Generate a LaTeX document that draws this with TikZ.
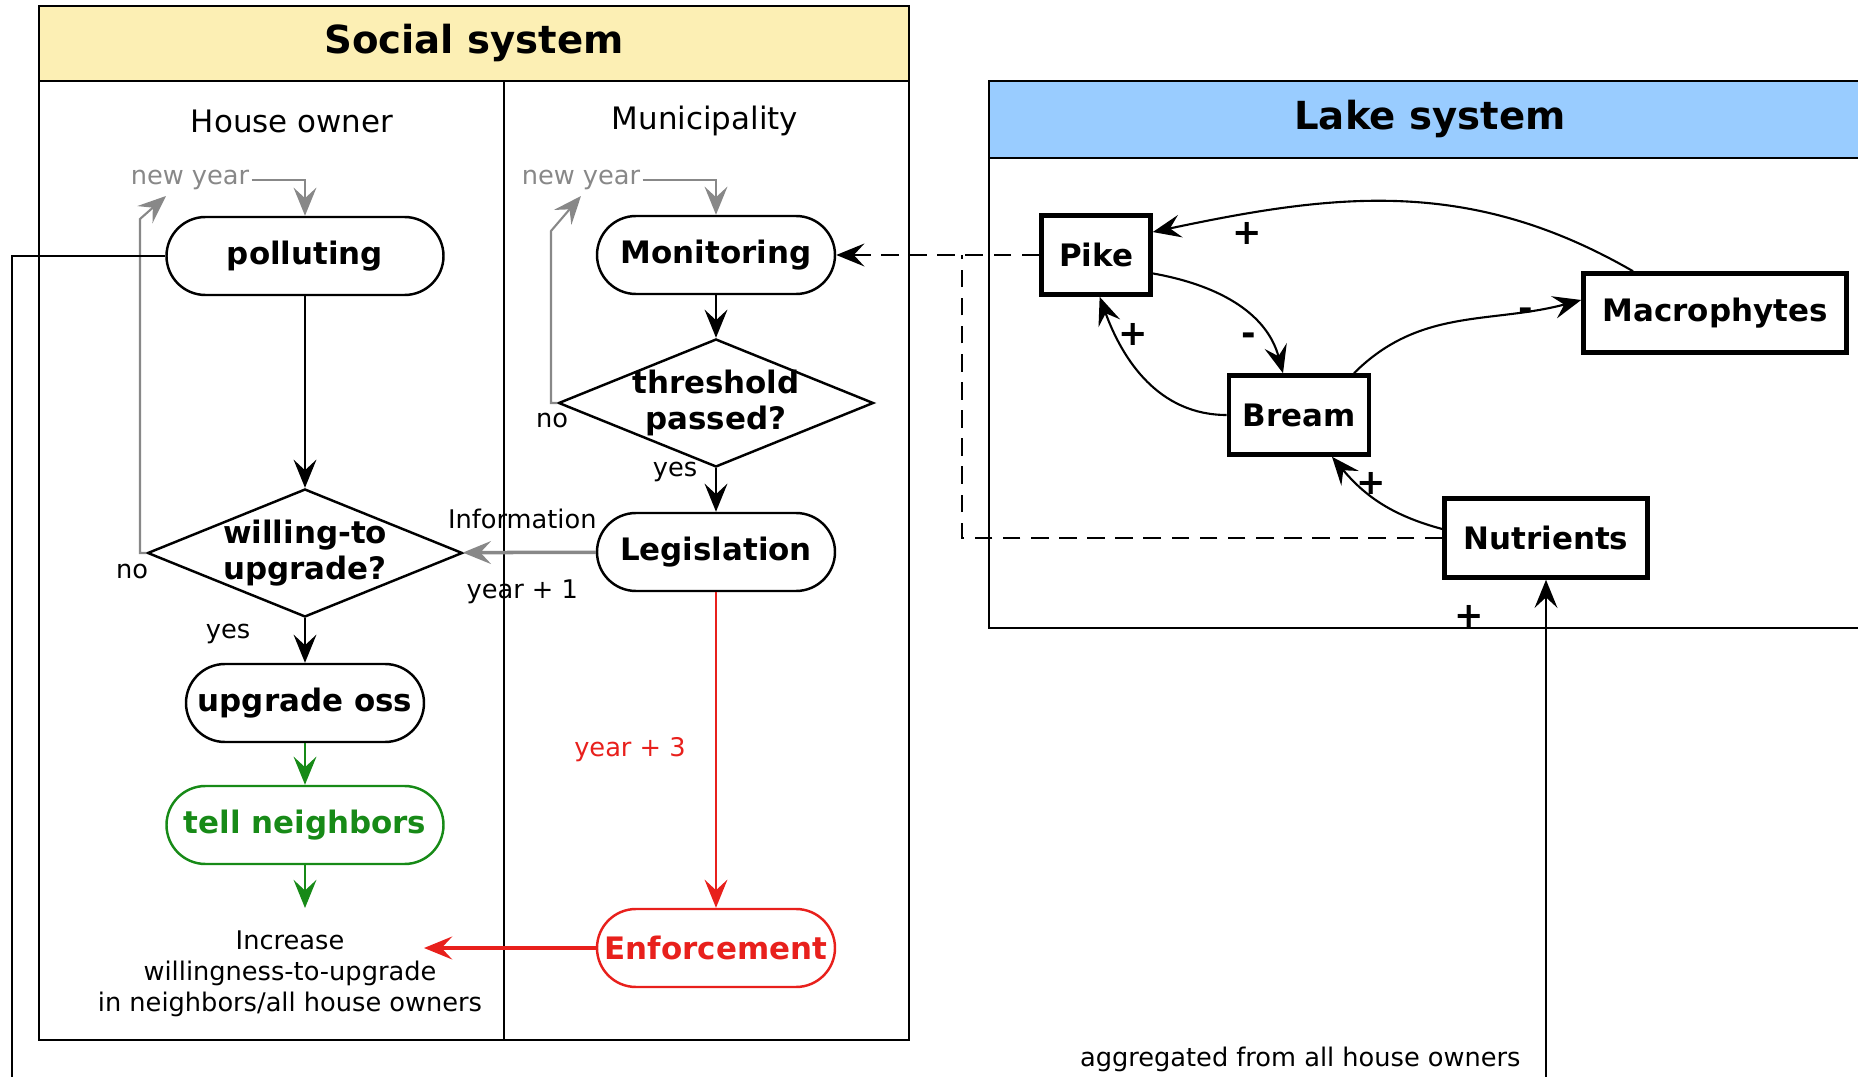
\documentclass[tikz,border=0pt]{standalone}
\usepackage{fontspec}
\setmainfont{DejaVu Sans}
\usetikzlibrary{shapes.geometric,arrows.meta,positioning}
\definecolor{socialyellow}{HTML}{FCEFB4}
\definecolor{lakeblue}{HTML}{99CCFF}
\definecolor{tellgreen}{HTML}{178A17}
\definecolor{enfred}{HTML}{E8201C}
\definecolor{loopgray}{HTML}{888888}

\begin{document}
\begin{tikzpicture}[
  action/.style={draw, rectangle, rounded corners=0.39cm, minimum width=2.38cm,
    minimum height=0.78cm, inner xsep=1pt, line width=0.7pt,
    font=\fontsize{8.8}{10.5}\selectfont\bfseries},
  decision/.style={draw, diamond, aspect=2.45, minimum width=3.15cm,
    minimum height=1.28cm, inner sep=-2pt, align=center, line width=0.7pt,
    font=\fontsize{8.8}{10.4}\selectfont\bfseries},
  stock/.style={draw, rectangle, minimum height=0.79cm, line width=1.3pt,
    font=\fontsize{8.8}{10.5}\selectfont\bfseries},
  lane/.style={font=\fontsize{8.8}{10.5}\selectfont},
  small/.style={font=\fontsize{7.3}{8.8}\selectfont},
  title/.style={font=\fontsize{11}{13}\selectfont\bfseries},
  arrow/.style={line width=0.6pt, -{Stealth[length=8pt,width=6.5pt,inset=3pt]}},
  link/.style={dashed, dash pattern=on 5pt off 3pt, line width=0.7pt},
  sign/.style={font=\fontsize{10}{12}\selectfont\bfseries, inner sep=1pt}
]
\clip (0,0) rectangle (18.58,10.76);

% frames
\draw[line width=0.8pt, fill=socialyellow] (0.39,9.95) rectangle (9.09,10.70);
\draw[line width=0.8pt] (0.39,0.36) rectangle (9.09,9.95);
\draw[line width=0.8pt] (5.04,0.36) -- (5.04,9.95);
\node[title] (social) at (4.74,10.33) {Social system};
\node[lane] (howner) at (2.92,9.55) {House owner};
\node[lane] (munic) at (7.05,9.55) {Municipality};

\draw[line width=0.8pt, fill=lakeblue] (9.89,9.18) rectangle (18.80,9.95);
\draw[line width=0.8pt] (9.89,4.48) rectangle (18.80,9.18);
\node[title] (lake) at (14.30,9.57) {Lake system};

% house owner
\node[action, minimum width=2.77cm] (poll) at (3.05,8.20) {polluting};
\node[decision] (will) at (3.05,5.23) {willing-to\\upgrade?};
\node[action] (upg) at (3.05,3.73) {upgrade oss};
\node[action, draw=tellgreen, text=tellgreen, minimum width=2.77cm] (tell) at (3.05,2.51) {tell neighbors};
\node[small, align=center] (inc) at (2.90,1.02) {Increase\\willingness-to-upgrade\\in neighbors/all house owners};
\coordinate (incT) at (3.05,1.68);
\coordinate (incR) at (4.24,1.28);

% municipality
\node[action] (mon) at (7.16,8.21) {Monitoring};
\node[decision] (thr) at (7.16,6.73) {threshold\\passed?};
\node[action] (leg) at (7.16,5.24) {Legislation};
\node[action, draw=enfred, text=enfred] (enf) at (7.16,1.28) {Enforcement};

\node[small, text=loopgray, inner xsep=0.5pt] (ny1) at (1.90,8.96) {new year};
\node[small, text=loopgray, inner xsep=0.5pt] (ny2) at (5.81,8.96) {new year};

% lake
\node[stock, minimum width=1.09cm] (pike) at (10.96,8.21) {Pike};
\node[stock, minimum width=2.63cm] (mac) at (17.15,7.63) {Macrophytes};
\node[stock, minimum width=1.40cm] (bream) at (12.99,6.61) {Bream};
\node[stock, minimum width=2.03cm] (nut) at (15.46,5.38) {Nutrients};
\coordinate (jn) at (9.62,8.21);
\coordinate (botL) at (0.12,-0.2);
\coordinate (botN) at (15.46,-0.2);

% flow
\draw[arrow, loopgray] (ny1.east) -| (poll.north);
\draw[arrow, loopgray] (ny2.east) -| (mon.north);
\draw[arrow, loopgray] (will.west) -- (1.40,5.23) -- (1.40,8.57) -- (1.66,8.80);
\draw[arrow, loopgray] (thr.west) -- (5.51,6.73) -- (5.51,8.45) -- (5.81,8.80);
\node[small] at (1.32,5.05) {no};
\node[small] at (5.52,6.55) {no};
\node[small] at (2.28,4.42) {yes};
\node[small] at (6.75,6.04) {yes};

\draw[arrow] (poll) -- (will);
\draw[arrow] (will) -- (upg);
\draw[arrow, tellgreen] (upg) -- (tell);
\draw[arrow, tellgreen] (tell) -- (incT);
\draw[arrow] (mon) -- (thr);
\draw[arrow] (thr) -- (leg);
\draw[arrow, loopgray, line width=1pt] (leg) -- (will)
  node[small, text=black, midway, above=3pt, xshift=-2pt] {Information}
  node[small, text=black, midway, below=4pt, xshift=-2pt] {year + 1};
\draw[arrow, enfred] (leg) -- (enf) node[small, midway, left=5pt] {year + 3};
\draw[arrow, enfred, line width=1pt] (enf) -- (incR);

\draw[line width=0.8pt] (poll.west) -| (botL);

% lake links
\draw[arrow, link] (pike) -- (mon);
\draw[link] (nut.west) -| (jn);
\draw[arrow] (mac.153) to[out=150, in=12] (pike.22);
\draw[arrow] (pike.-18) to[out=-10, in=105] ([xshift=-0.16cm]bream.north);
\draw[arrow] (bream.west) to[out=180, in=-70] (pike.-85);
\draw[arrow] ([xshift=0.55cm]bream.north) to[out=45, in=195] ([yshift=0.13cm]mac.west);
\draw[arrow] ([yshift=0.09cm]nut.west) to[out=165, in=-50] ([xshift=0.33cm]bream.south);
\draw[arrow] (botN) -- (nut.south);
\node[sign] at (12.47,8.43) {+};
\node[sign] at (12.49,7.37) {-};
\node[sign] at (11.33,7.42) {+};
\node[sign] at (15.26,7.62) {-};
\node[sign] at (13.71,5.93) {+};
\node[sign] at (14.69,4.60) {+};
\node[small, anchor=east] (agg) at (15.33,0.17) {aggregated from all house owners};

\end{tikzpicture}
\end{document}
